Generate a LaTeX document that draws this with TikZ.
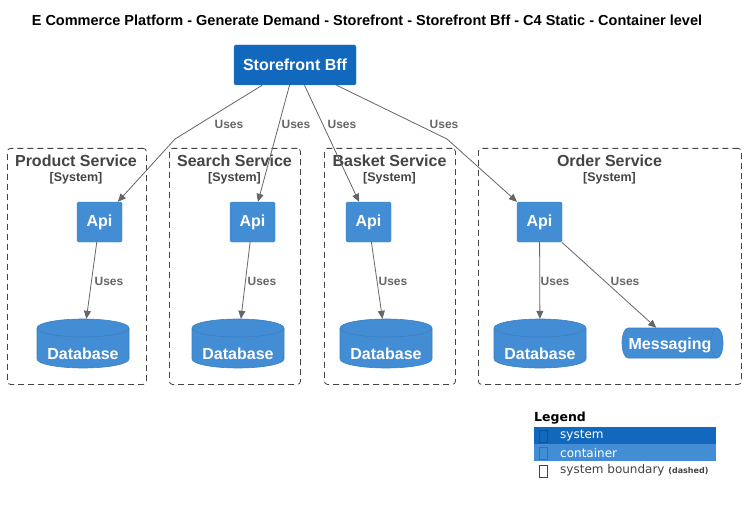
\documentclass[tikz,border=0pt]{standalone}
\usepackage{fontspec}
\setmainfont{Liberation Sans}
\newfontfamily\dejavu{DejaVu Sans}
\usetikzlibrary{arrows.meta}
\definecolor{sysblue}{HTML}{1168BD}
\definecolor{contblue}{HTML}{438DD5}
\definecolor{contline}{HTML}{3C7FC0}
\definecolor{relgray}{HTML}{666666}
\definecolor{bndgray}{HTML}{444444}
\tikzset{
  sysbox/.style={draw=contline, fill=sysblue, rounded corners=1.5pt, text=white, font=\bfseries\fontsize{16}{18}\selectfont, minimum width=122pt, minimum height=40pt, inner sep=0pt},
  apibox/.style={draw=contline, fill=contblue, rounded corners=1.5pt, text=white, font=\bfseries\fontsize{16}{18}\selectfont, minimum width=45pt, minimum height=40pt, inner sep=0pt},
  dbarea/.style={minimum width=92pt, minimum height=49pt, inner sep=0pt},
  dbtext/.style={text=white, font=\bfseries\fontsize{16}{18}\selectfont, inner sep=0pt},
  cylfill/.style={fill=contblue, draw=contline, line width=0.6pt},
  bnd/.style={draw=bndgray, dash pattern=on 6pt off 4pt, line width=0.8pt, rounded corners=3pt},
  bndtitle/.style={text=bndgray, font=\bfseries\fontsize{16}{18}\selectfont, inner sep=0pt},
  bndsub/.style={text=bndgray, font=\bfseries\fontsize{12.5}{14}\selectfont, inner sep=0pt},
  rel/.style={draw=relgray, line width=0.8pt, -{Triangle[length=8pt,width=7pt]}},
  rellbl/.style={text=relgray, font=\bfseries\fontsize{12}{14}\selectfont, inner sep=0pt},
  legrow/.style={minimum width=182pt, minimum height=17pt, inner sep=0pt, anchor=north west},
  legtxt/.style={font=\dejavu\fontsize{12}{14}\selectfont, inner sep=0pt, anchor=west},
  glyph/.style={minimum width=8pt, minimum height=12pt, inner sep=0pt, line width=0.6pt}
}
\newcommand{\dbcyl}[3]{% cx, top, bottom
  \path[cylfill] (#1-46,#2+9) -- (#1-46,#3-9) arc[start angle=180,end angle=0,x radius=46,y radius=9] -- (#1+46,#2+9) arc[start angle=0,end angle=-180,x radius=46,y radius=9] -- cycle;
  \draw[contline, line width=0.6pt] (#1-46,#2+9) arc[start angle=180,end angle=0,x radius=46,y radius=9];
}
\begin{document}
\begin{tikzpicture}[x=1pt,y=-1pt]
\useasboundingbox[fill=white] (0,0) rectangle (746,505);

\node[font=\bfseries\fontsize{14.5}{16}\selectfont, inner sep=0pt] (title) at (367,20) {E Commerce Platform - Generate Demand - Storefront - Storefront Bff - C4 Static - Container level};

% boundaries
\node[bnd, minimum width=139pt, minimum height=236pt, inner sep=0pt, anchor=north west] (b1) at (7,148) {};
\node[bnd, minimum width=131pt, minimum height=236pt, inner sep=0pt, anchor=north west] (b2) at (169,148) {};
\node[bnd, minimum width=131pt, minimum height=236pt, inner sep=0pt, anchor=north west] (b3) at (324,148) {};
\node[bnd, minimum width=263pt, minimum height=236pt, inner sep=0pt, anchor=north west] (b4) at (478,148) {};

\node[bndtitle] (t1) at (76,161) {Product Service};
\node[bndsub] (s1) at (76,178) {[System]};
\node[bndtitle] (t2) at (234.5,161) {Search Service};
\node[bndsub] (s2) at (234.5,178) {[System]};
\node[bndtitle] (t3) at (389.5,161) {Basket Service};
\node[bndsub] (s3) at (389.5,178) {[System]};
\node[bndtitle] (t4) at (609.5,161) {Order Service};
\node[bndsub] (s4) at (609.5,178) {[System]};

% storefront bff
\node[sysbox] (sfb) at (295,65) {Storefront Bff};

% apis
\node[apibox] (api1) at (99.5,222) {Api};
\node[apibox] (api2) at (252.5,222) {Api};
\node[apibox] (api3) at (368.5,222) {Api};
\node[apibox] (api4) at (539.5,222) {Api};

% databases
\dbcyl{83}{319}{368}
\dbcyl{238}{319}{368}
\dbcyl{386}{319}{368}
\dbcyl{540}{319}{368}
\node[dbarea] (db1) at (83,343.5) {};
\node[dbarea] (db2) at (238,343.5) {};
\node[dbarea] (db3) at (386,343.5) {};
\node[dbarea] (db4) at (540,343.5) {};
\node[dbtext] (db1t) at (83,354) {Database};
\node[dbtext] (db2t) at (238,354) {Database};
\node[dbtext] (db3t) at (386,354) {Database};
\node[dbtext] (db4t) at (540,354) {Database};

% messaging (horizontal cylinder)
\path[cylfill] (717,328) -- (628,328) arc[start angle=-90,end angle=-270,x radius=6,y radius=15] -- (717,358) arc[start angle=90,end angle=-90,x radius=6,y radius=15] -- cycle;
\draw[contline, line width=0.6pt] (717,328) arc[start angle=-90,end angle=-270,x radius=6,y radius=15];
\node[minimum width=102pt, minimum height=30pt, inner sep=0pt] (msg) at (673,343) {};
\node[dbtext] (msgt) at (670,345) {Messaging};

% relations
\coordinate (k1) at (175,139);
\coordinate (k4) at (447,139);
\draw[rel] (sfb) -- (k1) -- (api1);
\draw[rel] (sfb) -- (api2);
\draw[rel] (sfb) -- (api3);
\draw[rel] (sfb) -- (k4) -- (api4);
\draw[rel] (api1) -- (db1);
\draw[rel] (api2) -- (db2);
\draw[rel] (api3) -- (db3);
\draw[rel] (api4) -- (db4);
\draw[rel] (api4) -- (msg);

\node[rellbl] (u1) at (229,124) {Uses};
\node[rellbl] (u2) at (296,124) {Uses};
\node[rellbl] (u3) at (342,124) {Uses};
\node[rellbl] (u4) at (444,124) {Uses};
\node[rellbl] (v1) at (109,281) {Uses};
\node[rellbl] (v2) at (262,281) {Uses};
\node[rellbl] (v3) at (393,281) {Uses};
\node[rellbl] (v4) at (555,281) {Uses};
\node[rellbl] (v5) at (625,281) {Uses};

% legend
\node[font=\dejavu\bfseries\fontsize{12.5}{14}\selectfont, inner sep=0pt, anchor=west] (leg) at (534,418) {Legend};
\node[legrow, fill=sysblue] (r1) at (534,427) {};
\node[legrow, fill=contblue] (r2) at (534,444) {};
\node[glyph, draw=sysblue!80!black] (g1) at (543,436) {};
\node[glyph, draw=contblue!80!black] (g2) at (543,453) {};
\node[glyph, draw=bndgray] (g3) at (543,471) {};
\node[legtxt, text=white] (l1) at (560,436) {system};
\node[legtxt, text=white] (l2) at (560,453) {container};
\node[legtxt, text=bndgray] (l3) at (560,470) {system boundary {\bfseries\fontsize{8}{9}\selectfont(dashed)}};
\end{tikzpicture}
\end{document}
